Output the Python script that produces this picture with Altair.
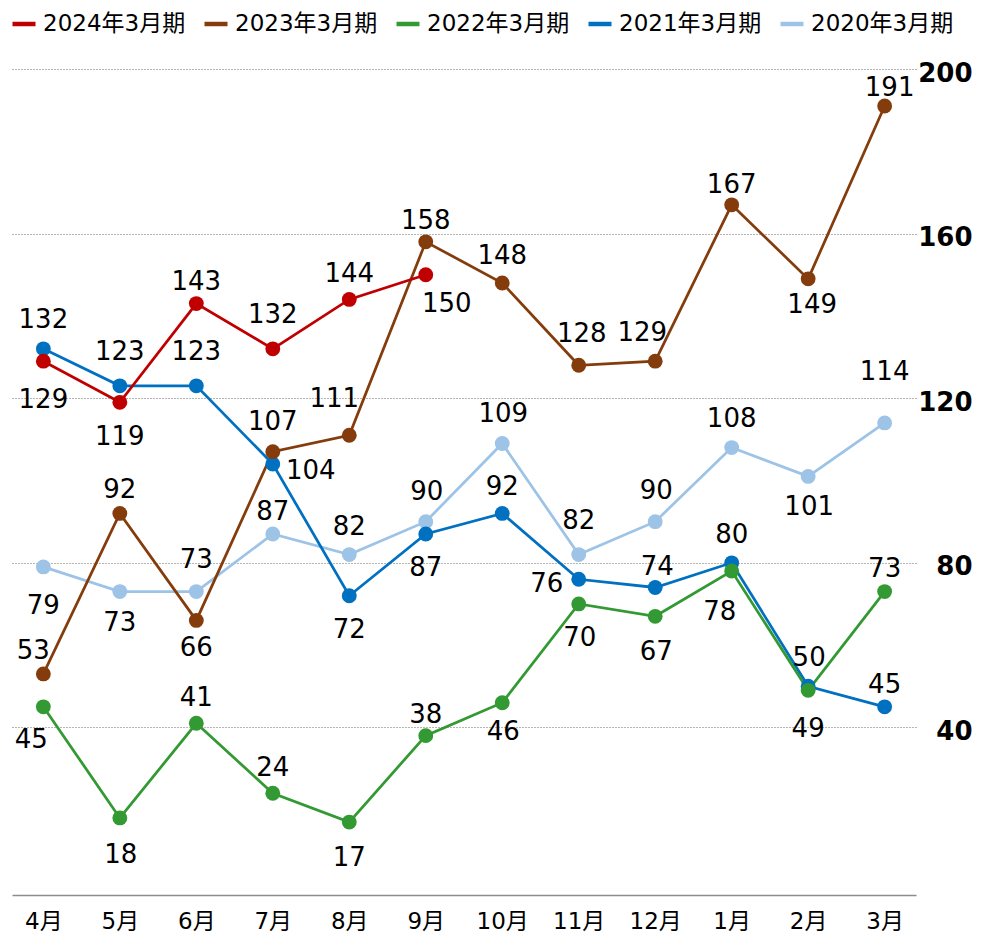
import altair as alt
import pandas as pd

FONT = "DejaVu Sans, Noto Sans CJK JP"

MONTHS = ["4月", "5月", "6月", "7月", "8月", "9月", "10月", "11月", "12月", "1月", "2月", "3月"]
SERIES = ["2024年3月期", "2023年3月期", "2022年3月期", "2021年3月期", "2020年3月期"]
COLORS = ["#C00000", "#843C0C", "#339933", "#0070C0", "#9DC3E6"]

v2024 = [129, 119, 143, 132, 144, 150]
v2023 = [53, 92, 66, 107, 111, 158, 148, 128, 129, 167, 149, 191]
v2022 = [45, 18, 41, 24, 17, 38, 46, 70, 67, 78, 49, 73]
v2021 = [132, 123, 123, 104, 72, 87, 92, 76, 74, 80, 50, 45]
v2020 = [79, 73, 73, 87, 82, 90, 109, 82, 90, 108, 101, 114]

# data-label offsets (pixels) relative to each marker
dx2024 = [0, 0, 0, 0, 0, 21]
dy2024 = [37, 33, -24, -36, -27, 27]
dx2023 = [-10, 0, 0, 0, -15, 0, 0, 3, -13, 0, 4, 5]
dy2023 = [-25, -25, 26, -32, -38, -23, -29, -33, -30, -22, 24, -20]
dx2022 = [-12, 1, 0, 0, 0, 0, 1, 1, 1, -12, 0, 0]
dy2022 = [31, 35, -27, -27, 34, -23, 27, 32, 34, 39, 37, -25]
dx2021 = [0, 0, 0, 38, 0, 0, 0, -32, 2, 0, 1, 0]
dy2021 = [-31, -36, -36, 5, 32, 32, -28, 3, -22, -30, -30, -24]
dx2020 = [0, 0, 0, 0, 0, 1, 1, 0, 1, 0, 1, 0]
dy2020 = [37, 29, -34, -24, -30, -32, -31, -36, -33, -31, 29, -53]

# draw order: oldest first so newer series sit on top
groups = [
    ("2020年3月期", v2020, dx2020, dy2020),
    ("2021年3月期", v2021, dx2021, dy2021),
    ("2022年3月期", v2022, dx2022, dy2022),
    ("2023年3月期", v2023, dx2023, dy2023),
    ("2024年3月期", v2024, dx2024, dy2024),
]
rows = []
for name, vals, dxs, dys in groups:
    for i, v in enumerate(vals):
        rows.append({"series": name, "month": MONTHS[i], "idx": i, "value": v,
                     "ldx": dxs[i], "ldy": dys[i]})
df = pd.DataFrame(rows)

x = alt.X("month:O", sort=MONTHS,
          scale=alt.Scale(type="point", padding=0.41),
          axis=alt.Axis(title=None, labelAngle=0, ticks=False, grid=False,
                        domainColor="#8c8c8c", domainWidth=1.5, offset=3,
                        labelPadding=15, labelFontSize=23, labelFont=FONT,
                        labelColor="#000000"))
y = alt.Y("value:Q",
          scale=alt.Scale(domain=[0, 200], nice=False, zero=True),
          axis=alt.Axis(orient="right", values=[40, 80, 120, 160, 200], title=None,
                        ticks=False, domain=False, grid=True, gridDash=[1, 2],
                        gridColor="#6a6a6a", gridWidth=1,
                        labelFont=FONT, labelFontWeight="bold", labelFontSize=26,
                        labelColor="#000000", labelAlign="right", labelPadding=56,
                        labelBaseline="middle", labelOffset=4))
color_legend = alt.Color("series:N",
                         scale=alt.Scale(domain=SERIES, range=COLORS),
                         legend=alt.Legend(title=None, orient="none", legendX=-2, legendY=-59,
                                           direction="horizontal", symbolType="stroke",
                                           symbolSize=529, symbolStrokeWidth=4.5,
                                           labelFont=FONT, labelFontSize=23,
                                           labelColor="#000000", labelOffset=5,
                                           columnPadding=9, labelLimit=300, padding=0))
color_plain = alt.Color("series:N", scale=alt.Scale(domain=SERIES, range=COLORS), legend=None)

base = alt.Chart(df)

lines = base.mark_line(strokeWidth=2.75).encode(
    x=x, y=y, color=color_legend, detail="series:N", order=alt.Order("idx:Q"))

pts = base.mark_circle(size=220, opacity=1).encode(x=x, y=y, color=color_plain)

labels = base.mark_text(
    fontSize=26, font=FONT, color="#000000", align="center", baseline="middle",
    dx=alt.ExprRef(expr="datum.ldx"), dy=alt.ExprRef(expr="datum.ldy + 2"),
).encode(x=x, y=y, text="value:Q")

chart = alt.layer(lines, pts, labels).properties(
    width=904, height=823,
    autosize=alt.AutoSizeParams(type="none"),
    padding={"left": 4, "top": 61, "right": 58, "bottom": 43},
    background="white",
).configure_view(stroke=None)

chart.save("out.html", embed_options={"renderer": "svg", "actions": False})
